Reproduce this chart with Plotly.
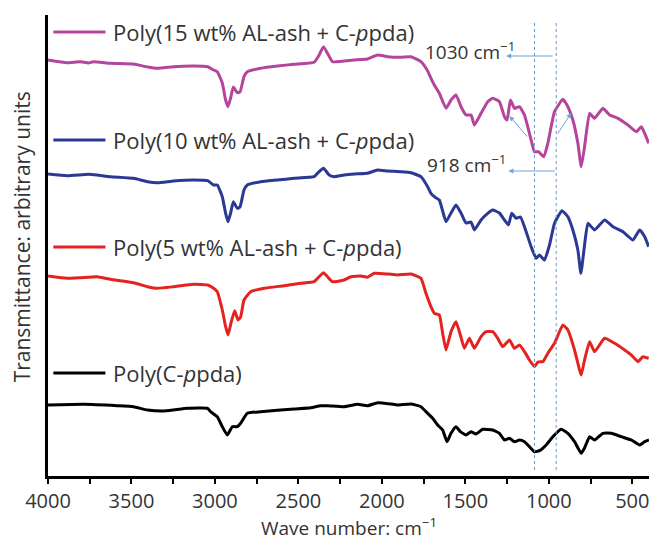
import plotly.graph_objects as go

# ---------------- data ----------------
series_names = [
    "Poly(15 wt% AL-ash + C-<i>p</i>pda)",
    "Poly(10 wt% AL-ash + C-<i>p</i>pda)",
    "Poly(5 wt% AL-ash + C-<i>p</i>pda)",
    "Poly(C-<i>p</i>pda)",
]
series_colors = ["#B5449C", "#2B3894", "#E42320", "#000000"]

wn_15 = [4000, 3886, 3806, 3758, 3728, 3626, 3488, 3404, 3344, 3248, 3128, 3044, 3008, 2986, 2956, 2936, 2922,
         2906, 2890, 2866, 2850, 2826, 2806, 2726, 2626, 2526, 2406, 2376, 2350, 2326, 2296, 2226, 2166, 2086,
         2026, 1966, 1886, 1826, 1766, 1726, 1706, 1686, 1656, 1616, 1586, 1556, 1526, 1496, 1466, 1446, 1406,
         1366, 1336, 1296, 1266, 1250, 1230, 1206, 1176, 1146, 1106, 1086, 1062, 1030, 1006, 966, 916, 886, 856,
         826, 806, 786, 756, 726, 676, 636, 586, 526, 476, 446, 426, 402]
t_15 = [416, 413.3, 414.3, 413, 414.3, 412.7, 412, 409, 407.7, 409.3, 410, 409.3, 406, 404.3, 393, 376, 369.3,
        378, 389, 383.3, 384, 399.3, 404.3, 407.7, 410, 411.7, 413.7, 421, 429.3, 422.7, 414.3, 415, 416, 417,
        421, 419.3, 418.7, 419.3, 414.3, 405, 397.7, 391, 382.7, 367.7, 376, 381, 369.3, 361, 361, 351, 362.7,
        374.3, 377.7, 374.3, 359.3, 356, 376, 367.7, 369.3, 361, 336, 324.3, 324.3, 319.3, 332.7, 364.3, 376.7,
        369.3, 356, 332.7, 309.3, 329.3, 362.7, 357.7, 367.7, 361, 357.7, 351, 344.3, 349.3, 342.7, 332.7]

wn_10 = [4000, 3886, 3758, 3706, 3626, 3488, 3404, 3344, 3248, 3128, 3044, 3008, 2986, 2956, 2936, 2922, 2906,
         2890, 2866, 2850, 2826, 2806, 2726, 2626, 2526, 2406, 2386, 2350, 2316, 2286, 2226, 2166, 2086, 2026,
         1966, 1886, 1826, 1766, 1726, 1706, 1686, 1656, 1616, 1586, 1556, 1526, 1496, 1466, 1446, 1406, 1366,
         1336, 1296, 1266, 1242, 1222, 1196, 1170, 1146, 1106, 1076, 1056, 1026, 996, 966, 922, 886, 856, 826,
         808, 786, 766, 726, 666, 616, 556, 496, 456, 426, 402]
t_10 = [302, 300.3, 301.7, 301, 299.3, 297.7, 294.3, 293.3, 295, 296, 295.3, 291, 291, 279.3, 262.7, 254.3, 263,
        274.3, 267.7, 269, 286, 291, 294.3, 296, 297.7, 299.3, 302.7, 307.7, 301, 299.3, 301, 302, 302.7, 306,
        305, 304.3, 303.3, 299.3, 289.3, 282.7, 279.3, 276, 254.3, 263, 271, 263, 253, 254, 246, 256, 262.7,
        266, 263, 256, 251, 262.7, 257.7, 259, 249.3, 229.3, 217.7, 221, 216, 231, 252.7, 265.3, 259.3, 246, 226,
        202.7, 231, 252.7, 246, 256, 249.3, 244.3, 236, 246, 239.3, 229.3]

wn_5 = [4000, 3886, 3806, 3706, 3626, 3488, 3404, 3344, 3248, 3128, 3044, 3008, 2986, 2956, 2936, 2922, 2902,
        2882, 2862, 2846, 2826, 2786, 2706, 2586, 2486, 2406, 2376, 2350, 2326, 2296, 2226, 2186, 2126, 2086,
        2046, 1966, 1906, 1826, 1766, 1736, 1706, 1686, 1656, 1636, 1616, 1586, 1556, 1530, 1506, 1476, 1446,
        1406, 1376, 1336, 1306, 1276, 1236, 1206, 1176, 1146, 1116, 1086, 1066, 1036, 1006, 966, 916, 886, 846,
        816, 806, 786, 756, 726, 666, 606, 546, 506, 466, 436, 402]
t_5 = [200, 197.7, 198.3, 199.3, 196.7, 193.3, 189.3, 187.7, 189.3, 191.7, 191, 187.7, 184.3, 166, 149.3, 141,
       154.3, 165.3, 156, 159, 176, 184.3, 187.7, 190.3, 192.7, 194.3, 199.3, 203.3, 199.3, 194.3, 196, 199.3,
       200, 198.7, 202.7, 202, 201, 202, 197.7, 182.7, 169.3, 162.7, 161, 142.7, 126, 144.3, 154.3, 141, 127.7,
       137.7, 127.7, 139.3, 144.3, 144.3, 137.7, 129.3, 136, 127.7, 131, 124.3, 116, 109.3, 114, 114.3, 122.7,
       132.7, 151, 146, 126, 106, 101, 116, 134.3, 124.3, 137.7, 132.7, 126, 121, 114.3, 119.3, 117.7]

wn_0 = [4000, 3786, 3586, 3488, 3404, 3308, 3248, 3164, 3044, 3026, 2986, 2956, 2926, 2896, 2866, 2846, 2806,
        2726, 2526, 2426, 2366, 2326, 2226, 2146, 2086, 2026, 1946, 1906, 1826, 1766, 1726, 1696, 1666, 1636,
        1610, 1586, 1556, 1530, 1496, 1466, 1436, 1396, 1336, 1296, 1266, 1236, 1206, 1176, 1146, 1116, 1086,
        1056, 1016, 976, 926, 886, 846, 806, 786, 756, 726, 676, 626, 566, 506, 456, 426, 400]
t_0 = [71, 71.7, 70.3, 69.3, 66, 65, 66, 67.7, 67.7, 64.3, 59.3, 49.3, 41, 49.3, 49.3, 52.7, 62.7, 64.3, 67,
       68.3, 70.3, 70.3, 69.3, 71.7, 70.3, 73.3, 72, 71, 72, 69.3, 62.7, 57.7, 51, 46, 34.3, 42.7, 49.3, 44.3,
       41, 44.3, 42, 46.7, 46, 42.7, 36, 37.7, 34.3, 36, 34.3, 29.3, 24.3, 25.3, 31, 39.3, 46.7, 42.7, 34.3, 22.7,
       28, 39.3, 36, 42.7, 42.7, 39.3, 36, 31, 34.3, 36]

all_wn = [wn_15, wn_10, wn_5, wn_0]
all_t = [t_15, t_10, t_5, t_0]

legend_y = [444, 336, 229, 103]          # legend row heights (data units)
marker_lines_wn = [1086, 956]            # dotted guide lines

FONT = "Open Sans"
TXT = "#333333"

fig = go.Figure()
for name, c, xs, ys in zip(series_names, series_colors, all_wn, all_t):
    fig.add_trace(go.Scatter(x=xs, y=ys, mode="lines", name=name,
                             line=dict(color=c, width=3, shape="spline", smoothing=0.4),
                             showlegend=False, hoverinfo="skip"))

shapes = []
annotations = []
# custom legend rows
for name, c, ly in zip(series_names, series_colors, legend_y):
    shapes.append(dict(type="line", xref="x", yref="y", x0=3968, x1=3656, y0=ly, y1=ly,
                       line=dict(color=c, width=3)))
    annotations.append(dict(x=3620, y=ly, xref="x", yref="y", text=name, showarrow=False,
                            xanchor="left", yanchor="middle",
                            font=dict(family=FONT, size=22, color=TXT)))

# dotted guide lines
for w in marker_lines_wn:
    shapes.append(dict(type="line", xref="x", yref="y", x0=w, x1=w, y0=6, y1=453,
                       line=dict(color="#5B9BD5", width=1, dash="dot")))

# peak labels and arrows
annotations.append(dict(x=1752, y=425, xref="x", yref="y", text="1030 cm<sup>−1</sup>", showarrow=False,
                        xanchor="left", yanchor="middle", font=dict(family=FONT, size=19, color=TXT)))
annotations.append(dict(x=1740, y=312, xref="x", yref="y", text="918 cm<sup>−1</sup>", showarrow=False,
                        xanchor="left", yanchor="middle", font=dict(family=FONT, size=19, color=TXT)))
arrow_color = "#6FA3D8"
for hx, hy, tx, ty in [(1256, 420, 968, 420), (1242, 305, 956, 305),
                       (1236, 360, 1122, 338), (866, 363, 952, 341)]:
    annotations.append(dict(x=hx, y=hy, ax=tx, ay=ty, xref="x", yref="y", axref="x", ayref="y",
                            text="", showarrow=True, arrowhead=2, arrowsize=1, arrowwidth=1,
                            arrowcolor=arrow_color))

# axis titles
annotations.append(dict(x=-0.043, y=0.518, xref="paper", yref="paper",
                        text="Transmittance: arbitrary units", textangle=-90, showarrow=False,
                        xanchor="center", yanchor="middle", font=dict(family=FONT, size=21, color=TXT)))
annotations.append(dict(x=0.5, y=-0.11, xref="paper", yref="paper",
                        text="Wave number: cm<sup>−1</sup>", showarrow=False, borderpad=0,
                        xanchor="center", yanchor="middle", font=dict(family=FONT, size=19, color=TXT)))

fig.update_layout(
    width=653, height=541,
    margin=dict(l=48, r=4, t=15, b=65),
    paper_bgcolor="white", plot_bgcolor="white",
    shapes=shapes, annotations=annotations,
    xaxis=dict(range=[4000, 400], autorange=False, tickmode="linear", tick0=500, dtick=500,
               automargin=False,
               showline=True, linecolor="black", linewidth=2.5, mirror=False,
               ticks="outside", ticklen=5, tickwidth=2, tickcolor="black",
               minor=dict(dtick=250, ticks="outside", ticklen=5, tickwidth=2, tickcolor="black"),
               showgrid=False, zeroline=False,
               tickfont=dict(family=FONT, size=20, color=TXT)),
    yaxis=dict(range=[0, 461], autorange=False, automargin=False, showline=True, linecolor="black",
               linewidth=3, ticks="", showticklabels=False, showgrid=False, zeroline=False),
)

fig.write_html("out.html")
